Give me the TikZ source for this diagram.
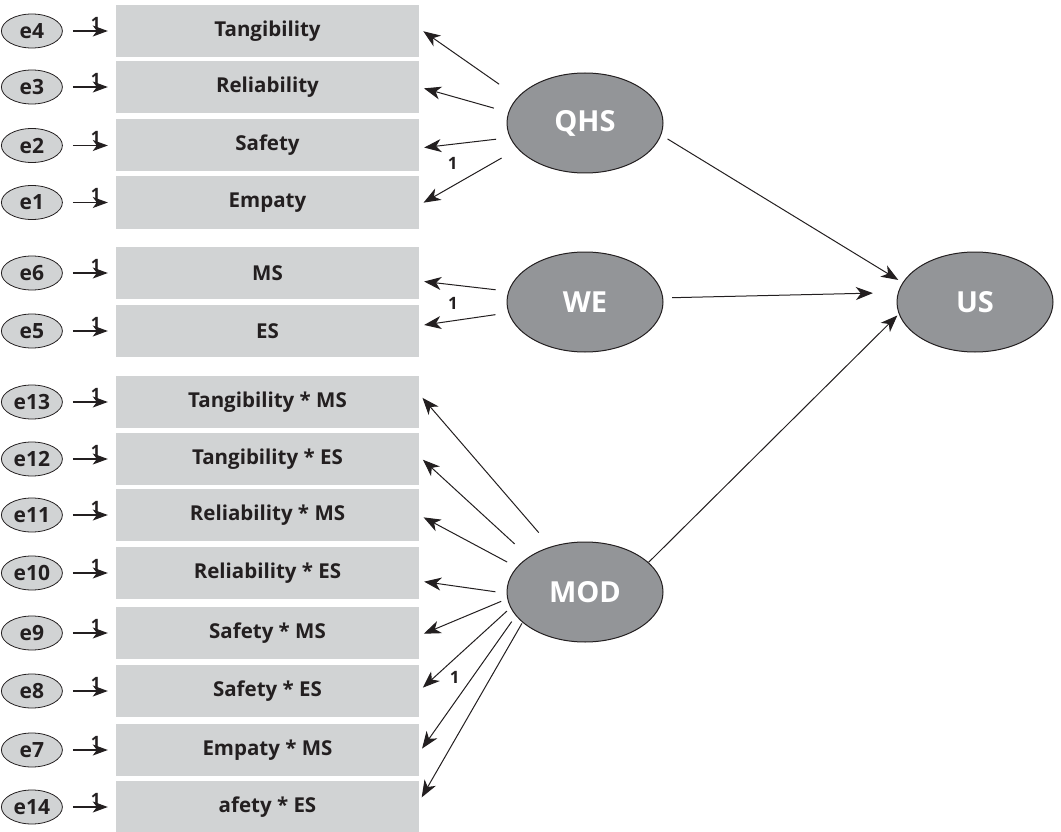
\documentclass[tikz,border=0pt]{standalone}
\usepackage{fontspec}
\setmainfont{Open Sans}
\usetikzlibrary{shapes.geometric, arrows.meta, positioning}
\definecolor{boxgray}{RGB}{209,211,212}
\definecolor{latgray}{RGB}{147,149,152}
\definecolor{ink}{RGB}{35,31,32}

\begin{document}
\begin{tikzpicture}[
  x=1pt, y=-1pt,
  indicator/.style={fill=boxgray, minimum width=303pt, minimum height=52pt, inner sep=0pt, text=ink, font=\fontsize{20.5}{24}\selectfont\bfseries},
  errterm/.style={draw=ink, ellipse, fill=boxgray, line width=0.8pt, minimum width=61pt, minimum height=34pt, inner sep=0pt, text=ink, font=\fontsize{21}{24}\selectfont\bfseries},
  latent/.style={draw=ink, ellipse, fill=latgray, line width=1pt, minimum width=156pt, minimum height=100pt, inner sep=0pt, text=white, font=\fontsize{29}{34}\selectfont\bfseries},
  fixed/.style={->, >={Stealth[length=15pt, width=11pt, inset=4pt]}, line width=1.1pt, draw=ink, shorten <=10pt, shorten >=8pt},
  loading/.style={->, >={Stealth[length=17pt, width=13pt, inset=5pt]}, line width=1pt, draw=ink},
  one/.style={inner sep=1pt, text=ink, font=\fontsize{17}{20}\selectfont\bfseries}
]
\useasboundingbox (0,0) rectangle (1061,832);

% Observed indicators
\node[indicator] (tang) at (267.5,31) {Tangibility};
\node[indicator] (reli) at (267.5,87) {Reliability};
\node[indicator] (safe) at (267.5,145.5) {Safety};
\node[indicator] (emp) at (267.5,202.5) {Empaty};
\node[indicator] (ms) at (267.5,273) {MS};
\node[indicator] (es) at (267.5,331) {ES};
\node[indicator] (tgms) at (267.5,402) {Tangibility * MS};
\node[indicator] (tges) at (267.5,459) {Tangibility * ES};
\node[indicator] (rlms) at (267.5,515) {Reliability * MS};
\node[indicator] (rles) at (267.5,573) {Reliability * ES};
\node[indicator] (sfms) at (267.5,633) {Safety * MS};
\node[indicator] (sfes) at (267.5,691) {Safety * ES};
\node[indicator] (emms) at (267.5,750) {Empaty * MS};
\node[indicator] (afes) at (267.5,807) {afety * ES};

% Error terms
\node[errterm, left=53pt of tang] (e4) {e4};
\node[errterm, left=53pt of reli] (e3) {e3};
\node[errterm, left=53pt of safe] (e2) {e2};
\node[errterm, left=53pt of emp] (e1) {e1};
\node[errterm, left=53pt of ms] (e6) {e6};
\node[errterm, left=53pt of es] (e5) {e5};
\node[errterm, left=53pt of tgms] (e13) {e13};
\node[errterm, left=53pt of tges] (e12) {e12};
\node[errterm, left=53pt of rlms] (e11) {e11};
\node[errterm, left=53pt of rles] (e10) {e10};
\node[errterm, left=53pt of sfms] (e9) {e9};
\node[errterm, left=53pt of sfes] (e8) {e8};
\node[errterm, left=53pt of emms] (e7) {e7};
\node[errterm, left=53pt of afes] (e14) {e14};

% Error paths
\draw[fixed] (e4) -- (tang) node[one, pos=0.62, above] {1};
\draw[fixed] (e3) -- (reli) node[one, pos=0.62, above] {1};
\draw[fixed] (e2) -- (safe) node[one, pos=0.62, above] {1};
\draw[fixed] (e1) -- (emp) node[one, pos=0.62, above] {1};
\draw[fixed] (e6) -- (ms) node[one, pos=0.62, above] {1};
\draw[fixed] (e5) -- (es) node[one, pos=0.62, above] {1};
\draw[fixed] (e13) -- (tgms) node[one, pos=0.62, above] {1};
\draw[fixed] (e12) -- (tges) node[one, pos=0.62, above] {1};
\draw[fixed] (e11) -- (rlms) node[one, pos=0.62, above] {1};
\draw[fixed] (e10) -- (rles) node[one, pos=0.62, above] {1};
\draw[fixed] (e9) -- (sfms) node[one, pos=0.62, above] {1};
\draw[fixed] (e8) -- (sfes) node[one, pos=0.62, above] {1};
\draw[fixed] (e7) -- (emms) node[one, pos=0.62, above] {1};
\draw[fixed] (e14) -- (afes) node[one, pos=0.62, above] {1};

% Latent variables
\node[latent] (QHS) at (585,123) {QHS};
\node[latent] (WE) at (585,302) {WE};
\node[latent] (MOD) at (585,592) {MOD};
\node[latent] (US) at (975,302) {US};

% Loadings
\draw[loading, shorten <=22.5pt, shorten >=5pt] (QHS.159) -- (tang.1.1);
\draw[loading, shorten <=15pt, shorten >=5pt] (QHS.172.6) -- (reli.-0.8);
\draw[loading, shorten <=13.8pt, shorten >=5pt] (QHS.191.5) -- (safe.-1.7) node[one, pos=0.63, below=12pt] {1};
\draw[loading, shorten <=18.5pt, shorten >=5pt] (QHS.201.8) -- (emp.-1.3);
\draw[loading, shorten <=12.8pt, shorten >=5pt] (WE.172.2) -- (ms.-3) node[one, pos=0.62, below=11pt] {1};
\draw[loading, shorten <=13pt, shorten >=5pt] (WE.188.3) -- (es.2.3);
\draw[loading, shorten <=18.4pt, shorten >=5pt] (MOD.127.6) -- (tgms.3.8);
\draw[loading, shorten <=19pt, shorten >=5pt] (MOD.148.5) -- (tges.1.5);
\draw[loading, shorten <=10.8pt, shorten >=5pt] (MOD.160.8) -- (rlms.-0.8);
\draw[loading, shorten <=11.2pt, shorten >=5pt] (MOD.181.8) -- (rles.-3.8);
\draw[loading, shorten <=6.5pt, shorten >=5pt] (MOD.185.4) -- (sfms.-1.5);
\draw[loading, shorten <=4.8pt, shorten >=5pt] (MOD.192.7) -- (sfes.-0.8) node[one, pos=0.61, below=11pt] {1};
\draw[loading, shorten <=7pt, shorten >=5pt] (MOD.199.6) -- (emms.-1.1);
\draw[loading, shorten <=1pt, shorten >=5pt] (MOD.206.6) -- (afes.2.6);

% Structural paths
\draw[loading, shorten <=7.4pt, shorten >=5pt] (QHS.-9.1) -- (US.165.4);
\draw[loading, shorten <=9pt, shorten >=25pt] (WE.3) -- (US.173);
\draw[loading, shorten >=2pt] (MOD.25) -- (US.189.5);

\end{tikzpicture}
\end{document}
